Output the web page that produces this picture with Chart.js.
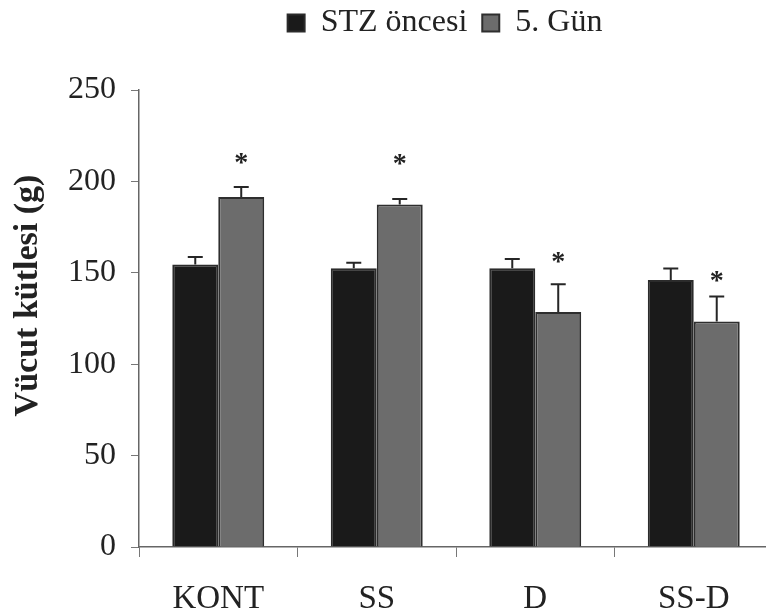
<!DOCTYPE html>
<html><head><meta charset="utf-8">
<script src="https://cdn.jsdelivr.net/npm/chart.js@4.4.1/dist/chart.umd.min.js"></script>
<style>html,body{margin:0;padding:0;background:#fff;overflow:hidden}
#wrap{width:766px;height:615px;overflow:hidden;position:relative;background:#fff}
canvas{display:block}</style></head>
<body><div id="wrap"><canvas id="c" width="790" height="615"></canvas></div>
<script>
const categories = ['KONT', 'SS', 'D', 'SS-D'];
const seriesNames = ['STZ öncesi', '5. Gün'];
const stzOncesi = [154.6, 152.5, 152.5, 146.1];
const stzOncesiSem = [4.0, 3.0, 5.0, 6.2];
const gun5 = [191.5, 187.3, 128.6, 123.3];
const gun5Sem = [5.4, 3.1, 15.1, 13.8];
const significance = ['*', '*', '*', '*'];
const significanceAt = [211.9, 211.3, 157.7, 147.3];
const yTicks = [0, 50, 100, 150, 200, 250];
const yTitle = 'Vücut kütlesi (g)';

const FONT = "'Liberation Serif', 'Times New Roman', serif";
const errs = [stzOncesiSem, gun5Sem];

const overlay = {
  id: 'overlay',
  afterLayout(chart) {
    const lg = chart.legend;
    if (lg) {
      lg.top -= 41; lg.bottom -= 41;
      lg.left += 58.5; lg.right += 58.5;
    }
  },
  afterDatasetsDraw(chart) {
    const ctx = chart.ctx, y = chart.scales.y;
    ctx.save();
    ctx.strokeStyle = '#262626';
    ctx.lineWidth = 2;
    chart.data.datasets.forEach((ds, di) => {
      const meta = chart.getDatasetMeta(di);
      meta.data.forEach((bar, i) => {
        const top = y.getPixelForValue(ds.data[i]);
        const cap = y.getPixelForValue(ds.data[i] + errs[di][i]);
        ctx.beginPath();
        ctx.moveTo(bar.x, top); ctx.lineTo(bar.x, cap);
        ctx.moveTo(bar.x - 7.5, cap); ctx.lineTo(bar.x + 7.5, cap);
        ctx.stroke();
      });
    });
    const meta1 = chart.getDatasetMeta(1);
    ctx.fillStyle = '#222';
    ctx.font = 'bold 28px ' + FONT;
    ctx.textAlign = 'center';
    ctx.textBaseline = 'middle';
    meta1.data.forEach((bar, i) => {
      ctx.fillText(significance[i], bar.x, y.getPixelForValue(significanceAt[i]) + 4);
    });
    const ca = chart.chartArea;
    ctx.translate(ca.left - 110.5, (ca.top + ca.bottom) / 2 - 23);
    ctx.rotate(-Math.PI / 2);
    ctx.font = 'bold 34px ' + FONT;
    ctx.fillText(yTitle, 0, 0);
    ctx.restore();
  }
};

new Chart(document.getElementById('c'), {
  type: 'bar',
  data: {
    labels: categories,
    datasets: [
      { label: seriesNames[0], data: stzOncesi, backgroundColor: '#1a1a1a', borderColor: '#2b2b2b', borderWidth: 2, barPercentage: 1, categoryPercentage: 0.58 },
      { label: seriesNames[1], data: gun5, backgroundColor: '#6c6c6c', borderColor: '#2e2e2e', borderWidth: 2, barPercentage: 1, categoryPercentage: 0.58 }
    ]
  },
  options: {
    responsive: false,
    animation: false,
    layout: { padding: { left: 0, right: 17, top: 33, bottom: 0 } },
    plugins: {
      legend: { position: 'top', labels: { font: { family: FONT, size: 32 }, color: '#222', boxWidth: 17, boxHeight: 17, padding: 15 } },
      tooltip: { enabled: false }
    },
    scales: {
      x: {
        grid: { display: true, drawOnChartArea: false, tickLength: 10, color: '#777', offset: true },
        border: { color: '#666', width: 1.5 },
        ticks: { font: { family: FONT, size: 33 }, color: '#222', padding: 23 },
        afterFit: s => { s.height = 68; }
      },
      y: {
        min: 0, max: 250,
        afterBuildTicks: s => { s.ticks = yTicks.map(v => ({ value: v })); },
        grid: { drawOnChartArea: false, tickLength: 8, color: '#777' },
        border: { color: '#666', width: 1.5 },
        ticks: { font: { family: FONT, size: 32 }, color: '#222', padding: 15 },
        afterFit: s => { s.width = 139; }
      }
    }
  },
  plugins: [overlay]
});
</script></body></html>
